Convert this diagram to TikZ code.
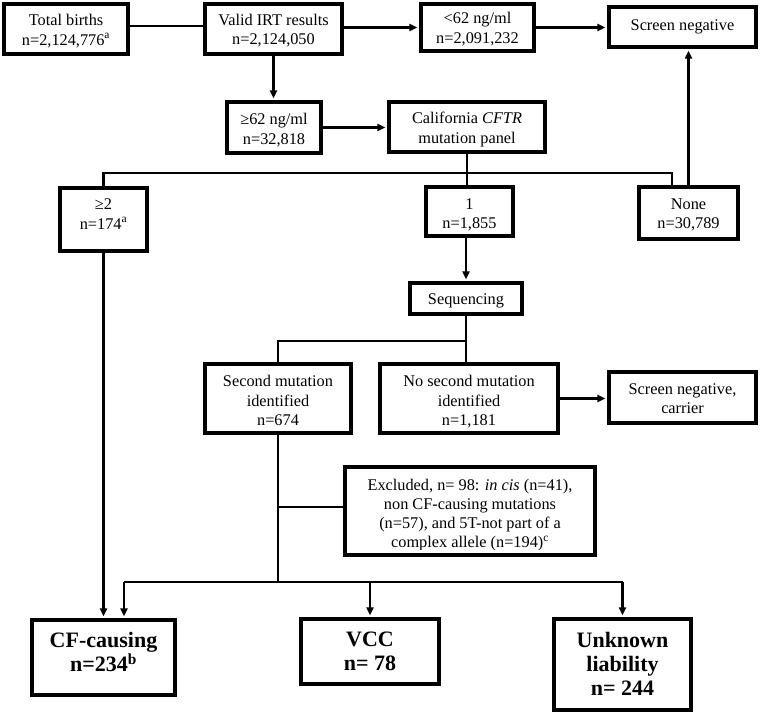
\documentclass[tikz,border=0pt]{standalone}
\usepackage{fontspec}
\setmainfont{Liberation Serif}
\usetikzlibrary{arrows.meta}
\tikzset{
  boxline/.style={line width=3.8pt},
  box/.style={draw, boxline, inner sep=0pt, align=center,
    text height=11pt, text depth=0pt,
    font=\fontsize{16.3}{19.3}\selectfont},
  bigbox/.style={box, text depth=0pt,
    font=\bfseries\fontsize{22}{24}\selectfont},
  txt/.style={inner sep=0pt, align=center, text depth=0pt,
    font=\fontsize{16.3}{19.3}\selectfont},
  conn/.style={line width=2.2pt},
  arr/.style={conn, -{Triangle[length=8pt,width=7pt]}, shorten >=1.6pt}
}
\begin{document}
\begin{tikzpicture}[x=1pt,y=-1pt]
\useasboundingbox (0,0) rectangle (762,713);

% boxes
\node[box, minimum width=124.2pt, minimum height=50.2pt, text height=32.3pt] (tb) at (66,29) {Total births\\n=2,124,776\textsuperscript{a}};
\node[box, minimum width=137.2pt, minimum height=50.2pt, text height=31.3pt] (irt) at (273.5,29) {Valid IRT results\\n=2,124,050};
\node[box, minimum width=113.2pt, minimum height=47.2pt, text height=31.3pt] (lt) at (477.5,27.5) {<62 ng/ml\\n=2,091,232};
\node[box, minimum width=147.2pt, minimum height=40.2pt, text height=11pt, text depth=5pt] (sn) at (682.5,27) {Screen negative};
\node[box, minimum width=94.2pt, minimum height=51.2pt, text height=33.3pt] (ge) at (274,127.5) {≥62 ng/ml\\n=32,818};
\node[box, minimum width=156.2pt, minimum height=50.2pt, text height=32.1pt] (cal) at (467,127) {California \textit{CFTR}\\mutation panel};
\node[box, minimum width=87.2pt, minimum height=63.2pt, text height=30.3pt, text depth=11pt] (g2) at (103.5,219.5) {≥2\\n=174\textsuperscript{a}};
\node[box, minimum width=87.2pt, minimum height=49.2pt, text height=34.3pt] (one) at (469.5,211.5) {1\\n=1,855};
\node[box, minimum width=99.2pt, minimum height=52.2pt, text height=31.3pt] (none) at (688.5,213) {None\\n=30,789};
\node[box, minimum width=112.2pt, minimum height=31.2pt, text height=11pt] (seq) at (466,298.5) {Sequencing};
\node[box, minimum width=146.2pt, minimum height=69.2pt, text height=53.6pt] (sec) at (278,398.5) {Second mutation\\identified\\n=674};
\node[box, minimum width=178.2pt, minimum height=69.2pt, text height=53.6pt] (nos) at (469,398.5) {No second mutation\\identified\\n=1,181};
\node[box, minimum width=147.2pt, minimum height=51.2pt, text height=31.9pt] (snc) at (682.5,397.5) {Screen negative,\\carrier};

% excluded box with clipped text
\node[inner sep=0pt, minimum width=250.2pt, minimum height=88.2pt] (exc) at (470,511) {};
\begin{scope}
  \clip (exc.north west) rectangle ([yshift=5.7pt]exc.south east);
  \node[txt, text height=68.9pt] (exctext) at (470,513.5) {Excluded, n= 98: \textit{in cis} (n=41),\\non CF-causing mutations\\(n=57), and 5T-not part of a\\complex allele (n=194)\textsuperscript{c}};
\end{scope}
\draw[boxline] (exc.north west) rectangle (exc.south east);

\node[bigbox, minimum width=143.2pt, minimum height=75.2pt, text height=38.6pt, text depth=10.4pt] (cf) at (103.5,657.5) {CF-causing\\n=234\textsuperscript{b}};
\node[bigbox, minimum width=138.2pt, minimum height=65.2pt, text height=38.6pt] (vcc) at (370,651.5) {VCC\\n= 78};
\node[bigbox, minimum width=137.2pt, minimum height=91.2pt, text height=62.6pt] (unk) at (622.5,664.5) {Unknown\\liability\\n= 244};

% helper coordinates
\coordinate (nb) at (672,173);
\coordinate (sb) at (466,341);
\coordinate (ej) at (278,507);
\coordinate (bl) at (124,582);
\coordinate (br) at (622.5,582);
\coordinate (bm) at (278,582);

% connectors
\draw[conn] ([yshift=3pt]tb.east) -- ([yshift=3pt]irt.west);
\draw[arr] (irt.east |- lt.west) -- (lt.west);
\draw[arr] (lt.east) -- (lt.east -| sn.west);
\draw[arr] (irt.south) -- (irt.south |- ge.north);
\draw[arr] (ge.east) -- (ge.east -| cal.west);
\draw[conn] (cal.south) -- (cal.south |- one.north);
\draw[conn] (g2.north) |- (nb) -- (nb |- none.north);
\draw[arr] (none.north) -- (none.north |- sn.south);
\draw[arr] (seq.north |- one.south) -- (seq.north);
\draw[conn] (seq.south) -- (seq.south |- nos.north);
\draw[conn] (sec.north) |- (sb);
\draw[arr] (nos.east) -- (nos.east -| snc.west);
\draw[conn] (sec.south) -- (bm);
\draw[conn] (ej) -- (ej -| exc.west);
\draw[conn] (bl) -- (br);
\draw[arr] (bl) -- (bl |- cf.north);
\draw[arr] (vcc.north |- bl) -- (vcc.north);
\draw[arr] (br) -- (unk.north);
\draw[arr] (g2.south) -- (cf.north);
\end{tikzpicture}
\end{document}
